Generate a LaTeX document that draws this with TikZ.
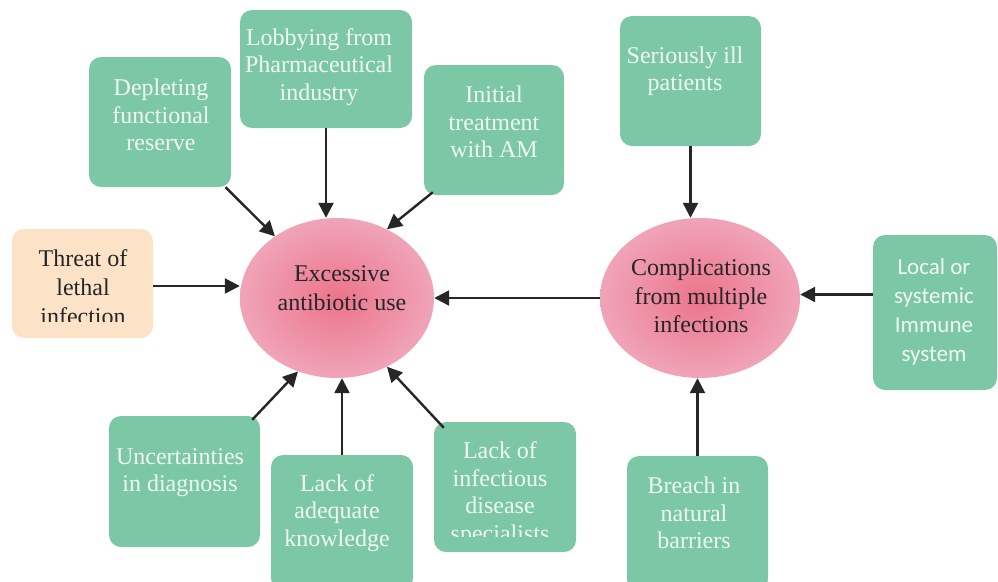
\documentclass[tikz,border=0pt]{standalone}
\usepackage{fontspec}
\setmainfont{Liberation Serif}
\newfontfamily\calib{Carlito}
\usetikzlibrary{arrows.meta,shapes.geometric}
\definecolor{gfill}{RGB}{124,200,166}
\definecolor{pfill}{RGB}{252,227,200}
\definecolor{gtext}{RGB}{240,248,242}
\definecolor{arr}{RGB}{38,38,38}
\definecolor{einner}{RGB}{236,116,138}
\definecolor{eouter}{RGB}{240,164,185}
\tikzset{
  gbox/.style={draw=none, fill=gfill, rounded corners=12pt, inner sep=0pt},
  pbox/.style={draw=none, fill=pfill, rounded corners=12pt, inner sep=0pt},
  gtxt/.style={text=gtext, align=center, inner sep=0pt, font=\fontsize{24}{27.5}\selectfont},
  ctxt/.style={text=gtext, align=center, inner sep=0pt, font=\calib\fontsize{23}{29}\selectfont},
  btxt/.style={text=black!85, align=center, inner sep=0pt, font=\fontsize{24}{28.5}\selectfont},
  ell/.style={ellipse, draw=none, inner sep=0pt, inner color=einner, outer color=eouter},
  conn/.style={draw=arr, line width=2.4pt, -{Triangle[length=15pt,width=15pt]}}
}
\begin{document}
\begin{tikzpicture}[x=1pt,y=-1pt]
\useasboundingbox (0,0) rectangle (998,581);
\clip (0,0) rectangle (998,581);

% boxes
\node[gbox, minimum width=142pt, minimum height=130pt] (dep) at (160,122) {};
\node[gtxt] (dept) at (161,115) {Depleting\\functional\\reserve};

\node[gbox, minimum width=172pt, minimum height=118pt] (lob) at (326,69) {};
\node[gtxt] (lobt) at (319,67) {Lobbying from\\Pharmaceutical\\industry};

\node[gbox, minimum width=140pt, minimum height=130pt] (ini) at (494,130) {};
\node[gtxt] (init) at (494,122) {Initial\\treatment\\with AM};

\node[gbox, minimum width=141pt, minimum height=130pt] (ser) at (690.5,81) {};
\node[gtxt] (sert) at (685,71) {Seriously ill\\patients};

\node[pbox, minimum width=141pt, minimum height=109pt] (thr) at (82.5,283.5) {};
\begin{scope}
\clip (12,229) rectangle (153,321);
\node[btxt, font=\fontsize{24}{29}\selectfont] (thrt) at (83,287) {Threat of\\lethal\\infection};
\end{scope}

\node[gbox, minimum width=124pt, minimum height=155pt] (loc) at (935,312.5) {};
\begin{scope}
\clip (873,235) rectangle (998,370);
\node[ctxt] (loct) at (934,311.5) {Local or\\systemic\\Immune\\system};
\end{scope}

\node[gbox, minimum width=151pt, minimum height=131pt] (unc) at (184.5,481.5) {};
\node[gtxt] (unct) at (180,472.5) {Uncertainties\\in diagnosis};

\node[gbox, minimum width=142pt, minimum height=135pt] (lad) at (342,522.5) {};
\node[gtxt] (ladt) at (337,513) {Lack of\\adequate\\knowledge};

\node[gbox, minimum width=142pt, minimum height=130pt] (lin) at (505,487) {};
\begin{scope}
\clip (434,422) rectangle (576,536);
\node[gtxt] (lint) at (500,494) {Lack of\\infectious\\disease\\specialists};
\end{scope}

\node[gbox, minimum width=141pt, minimum height=135pt] (bre) at (697.5,523.5) {};
\node[gtxt] (bret) at (694,513) {Breach in\\natural\\barriers};

% ellipses
\node[ell, minimum width=194pt, minimum height=160pt] (ex) at (337,298) {};
\node[btxt] (ext) at (342,288) {Excessive\\antibiotic use};

\node[ell, minimum width=200pt, minimum height=160pt] (co) at (700,298) {};
\node[btxt] (cot) at (701,296) {Complications\\from multiple\\infections};

% connectors
\draw[conn] (dep) -- (ex);
\draw[conn] (lob.south) -- (lob.south |- ex.north);
\draw[conn] ([xshift=9pt,yshift=3pt]ini.south west) -- (ex.54);
\coordinate (thre) at ([yshift=-2.5pt]thr.east);
\draw[conn] (thre) -- (thre -| ex.west);
\draw[conn] (co.west) -- (ex.east);
\draw[conn] ([xshift=-8pt,yshift=-4pt]unc.north east) -- (ex.242);
\draw[conn] (lad.north) -- (lad.north |- ex.south);
\draw[conn] ([xshift=10pt,yshift=-6pt]lin.north west) -- (ex.306);
\draw[conn] (ser.south) -- (ser.south |- co.north);
\coordinate (locw) at ([yshift=18pt]loc.west);
\draw[conn] (locw) -- (locw -| co.east);
\draw[conn] (bre.north) -- (bre.north |- co.south);
\end{tikzpicture}
\end{document}
